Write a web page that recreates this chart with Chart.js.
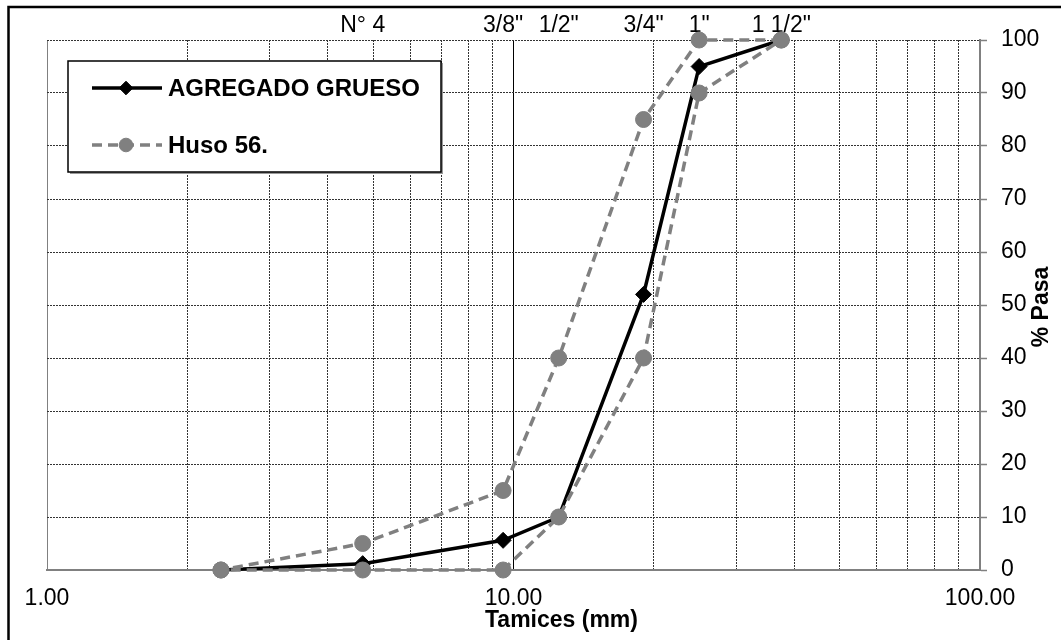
<!DOCTYPE html>
<html>
<head>
<meta charset="utf-8">
<title>Curva granulométrica - Agregado grueso</title>
<script src="https://cdn.jsdelivr.net/npm/chart.js@4.4.1/dist/chart.umd.min.js"></script>
<style>
  html, body { margin: 0; padding: 0; background: #fff; }
  #wrap { position: relative; width: 1061px; height: 640px; overflow: hidden; }
</style>
</head>
<body>
<div id="wrap"><canvas id="granulometria" width="1061" height="640"></canvas></div>
<script>
// Tamices (mm) y porcentaje que pasa
const sieveMm = [2.36, 4.75, 9.5, 12.5, 19, 25, 37.5];
const agregadoPasa = [0, 1.2, 5.6, 10, 52, 95, 100];
const husoMax = [0, 5, 15, 40, 85, 100, 100];
const husoMin = [0, 0, 0, 10, 40, 90, 100];

// Etiquetas de tamices en la parte superior
const topTickValues = [4.75, 9.5, 12.5, 19, 25, 37.5];
const topTickLabels = ['N° 4', '3/8"', '1/2"', '3/4"', '1"', '1 1/2"'];

// Ejes
const xGridValues = [1, 2, 3, 4, 5, 6, 7, 8, 9, 10, 20, 30, 40, 50, 60, 70, 80, 90, 100];
const xMajorValues = [1, 10, 100];
const xTickLabels = ['1.00', '10.00', '100.00'];
const yTickStep = 10;

const xTitle = 'Tamices (mm)';
const yTitle = '% Pasa';

const FONT = "'Liberation Sans', Arial, sans-serif";
const GRAY = '#808080';

// Puntos de la curva
const agregadoPoints = sieveMm.map((x, i) => ({ x: x, y: agregadoPasa[i] }));
// Huso: límite superior de mayor a menor, luego límite inferior de menor a mayor
const husoPoints = sieveMm.map((x, i) => ({ x: x, y: husoMax[i] })).reverse()
  .concat(sieveMm.map((x, i) => ({ x: x, y: husoMin[i] })));

// Marco exterior, leyenda y títulos de ejes
const decorPlugin = {
  id: 'decor',
  beforeDraw(chart) {
    const ctx = chart.ctx;
    ctx.save();
    ctx.fillStyle = '#fff';
    ctx.fillRect(0, 0, chart.width, chart.height);
    ctx.strokeStyle = '#000';
    ctx.lineWidth = 2.5;
    ctx.strokeRect(8.5, 7, 3000, 3000);
    ctx.restore();
  },
  afterDatasetsDraw(chart) {
    const ctx = chart.ctx;
    const L = 68, T = 61, W = 373, H = 111;
    ctx.save();
    ctx.fillStyle = '#999';
    ctx.fillRect(L + 2, T + 2, W, H);
    ctx.fillStyle = '#fff';
    ctx.fillRect(L, T, W, H);
    ctx.strokeStyle = '#000';
    ctx.lineWidth = 1.5;
    ctx.strokeRect(L, T, W, H);

    chart.data.datasets.forEach((ds, i) => {
      const y = T + 27 + i * 57;
      ctx.save();
      ctx.strokeStyle = ds.borderColor;
      ctx.lineWidth = ds.borderWidth;
      ctx.setLineDash(ds.borderDash || []);
      ctx.beginPath();
      ctx.moveTo(L + 24, y);
      ctx.lineTo(L + 94, y);
      ctx.stroke();
      ctx.setLineDash([]);
      ctx.fillStyle = ds.pointBackgroundColor;
      ctx.strokeStyle = ds.pointBorderColor;
      ctx.lineWidth = ds.pointBorderWidth;
      Chart.helpers.drawPoint(ctx, {
        pointStyle: ds.pointStyle,
        radius: ds.pointRadius * 0.85,
        rotation: 0,
        borderWidth: ds.pointBorderWidth
      }, L + 58, y);
      ctx.restore();

      ctx.fillStyle = '#000';
      ctx.font = 'bold 24px ' + FONT;
      ctx.textAlign = 'left';
      ctx.textBaseline = 'middle';
      ctx.fillText(ds.label, L + 100, y + 1);
    });
    ctx.restore();
  },
  afterDraw(chart) {
    const ctx = chart.ctx;
    const area = chart.chartArea;
    ctx.save();
    ctx.fillStyle = '#000';
    ctx.font = 'bold 23px ' + FONT;
    ctx.textAlign = 'center';
    ctx.textBaseline = 'middle';
    ctx.fillText(xTitle, (area.left + area.right) / 2 + 48, area.bottom + 51);

    ctx.translate(area.right + 62, (area.top + area.bottom) / 2 + 2);
    ctx.rotate(-Math.PI / 2);
    ctx.fillText(yTitle, 0, 0);
    ctx.restore();
  }
};

const chart = new Chart(document.getElementById('granulometria'), {
  type: 'scatter',
  data: {
    datasets: [
      {
        label: 'AGREGADO GRUESO',
        data: agregadoPoints,
        showLine: true,
        borderColor: '#000',
        backgroundColor: '#000',
        borderWidth: 3.5,
        pointStyle: 'rectRot',
        pointRadius: 8,
        pointBackgroundColor: '#000',
        pointBorderColor: '#000',
        pointBorderWidth: 1,
        tension: 0,
        clip: false,
        order: 1
      },
      {
        label: 'Huso 56.',
        data: husoPoints,
        showLine: true,
        borderColor: GRAY,
        backgroundColor: GRAY,
        borderWidth: 3.5,
        borderDash: [10, 6],
        pointStyle: 'circle',
        pointRadius: 8,
        pointBackgroundColor: GRAY,
        pointBorderColor: GRAY,
        pointBorderWidth: 1,
        tension: 0,
        clip: false,
        order: 0
      }
    ]
  },
  options: {
    responsive: false,
    animation: false,
    devicePixelRatio: 1,
    layout: { padding: { left: 47, top: 0, right: 0, bottom: 0 } },
    plugins: {
      legend: { display: false },
      tooltip: { enabled: false }
    },
    scales: {
      x: {
        type: 'logarithmic',
        position: 'bottom',
        min: 1,
        max: 100,
        afterBuildTicks: (scale) => {
          scale.ticks = xGridValues.map(v => ({ value: v }));
        },
        afterFit: (scale) => { scale.height = 70; },
        ticks: {
          autoSkip: false,
          maxRotation: 0,
          padding: 15,
          color: '#000',
          font: { family: FONT, size: 23 },
          callback: (value) => {
            const idx = xMajorValues.indexOf(value);
            return idx >= 0 ? xTickLabels[idx] : '';
          }
        },
        grid: { color: '#333', lineWidth: 1, drawTicks: false },
        border: { display: true, color: GRAY, width: 2, dash: [2, 1] }
      },
      xMajor: {
        type: 'logarithmic',
        position: 'bottom',
        min: 1,
        max: 100,
        afterBuildTicks: (scale) => {
          scale.ticks = xMajorValues.map(v => ({ value: v }));
        },
        afterFit: (scale) => { scale.height = 0; },
        ticks: { display: false },
        grid: {
          drawTicks: false,
          lineWidth: 1,
          color: (ctx) => (ctx.tick && ctx.tick.value === 10 ? '#000' : GRAY)
        },
        border: { display: false }
      },
      xTop: {
        type: 'logarithmic',
        position: 'top',
        min: 1,
        max: 100,
        afterBuildTicks: (scale) => {
          scale.ticks = topTickValues.map(v => ({ value: v }));
        },
        afterFit: (scale) => { scale.height = 40; },
        ticks: {
          autoSkip: false,
          maxRotation: 0,
          padding: 1,
          color: '#000',
          font: { family: FONT, size: 23 },
          callback: (value, index) => topTickLabels[index]
        },
        grid: { display: false, drawTicks: false },
        border: { display: false }
      },
      y: {
        type: 'linear',
        position: 'right',
        min: 0,
        max: 100,
        afterFit: (scale) => { scale.width = 81; },
        ticks: {
          stepSize: yTickStep,
          padding: 14,
          color: '#000',
          font: { family: FONT, size: 23 }
        },
        grid: {
          color: '#333',
          lineWidth: 1,
          drawTicks: true,
          tickLength: 7,
          tickColor: GRAY,
          tickWidth: 1.5,
          tickBorderDash: []
        },
        border: { display: true, color: GRAY, width: 2, dash: [2, 1] }
      }
    }
  },
  plugins: [decorPlugin]
});
</script>
</body>
</html>
